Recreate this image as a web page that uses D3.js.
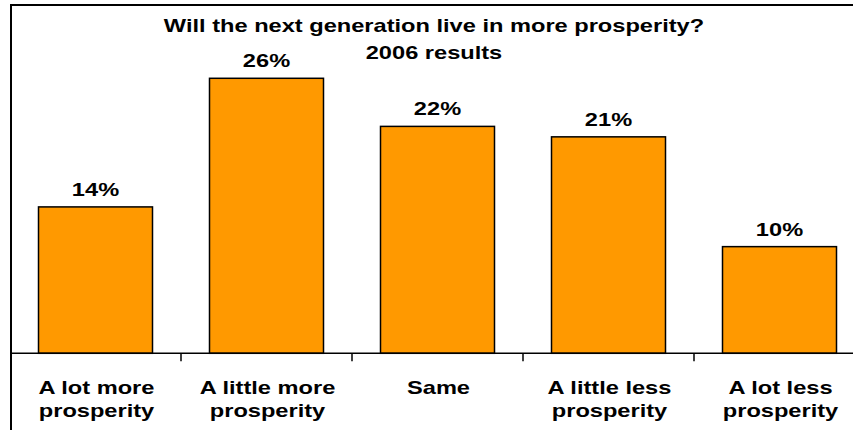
<!DOCTYPE html>
<html>
<head>
<meta charset="utf-8">
<script src="https://cdn.jsdelivr.net/npm/d3@7"></script>
<style>
html,body{margin:0;padding:0;background:#fff;}
svg{display:block;}
text{font-family:"Liberation Sans",Arial,sans-serif;font-weight:bold;fill:#000;}
</style>
</head>
<body>
<svg id="chart" width="853" height="430"></svg>
<script>
const categories = [["A lot more","prosperity"],["A little more","prosperity"],["Same"],["A little less","prosperity"],["A lot less","prosperity"]];
const values = [14.0, 26.3, 21.7, 20.7, 10.2];
const titleLines = ["Will the next generation live in more prosperity?","2006 results"];

const svg = d3.select("#chart");
const W = 853, H = 430;
const fs = 19.2, sx = 1.23;
const keys = categories.map(c => c.join(" "));

const x = d3.scaleBand().domain(keys).range([10, 865]).paddingInner(1/3).paddingOuter(1/6);
const y = d3.scaleLinear().domain([0, 30]).range([353.3, 39.6]);

// frame
svg.append("line").attr("x1",10).attr("x2",W).attr("y1",5).attr("y2",5).attr("stroke","#000").attr("stroke-width",2);
svg.append("line").attr("x1",11).attr("x2",11).attr("y1",4).attr("y2",H).attr("stroke","#000").attr("stroke-width",2);

// bars
svg.selectAll("rect.bar").data(values).join("rect")
  .attr("class","bar")
  .attr("x",(d,i)=>x(keys[i]))
  .attr("width",x.bandwidth())
  .attr("y",d=>y(d))
  .attr("height",d=>y(0)-y(d))
  .attr("fill","#FF9900")
  .attr("stroke","#000")
  .attr("stroke-width",1.5);

// axis line and ticks
svg.append("line").attr("x1",11).attr("x2",W).attr("y1",y(0)).attr("y2",y(0)).attr("stroke","#000").attr("stroke-width",1.5);
const bounds = keys.slice(1).map(k => x(k) - x.step()*x.paddingInner()/2);
svg.selectAll("line.tick").data(bounds).join("line")
  .attr("class","tick")
  .attr("x1",d=>d).attr("x2",d=>d)
  .attr("y1",y(0)).attr("y2",y(0)+8)
  .attr("stroke","#000").attr("stroke-width",1.5);

function stext(px, py, str){
  return svg.append("text")
    .attr("transform",`translate(${px},${py}) scale(${sx},1)`)
    .attr("text-anchor","middle")
    .attr("font-size",fs)
    .text(str);
}

// value labels
values.forEach((v,i)=>{
  stext(x(keys[i]) + x.bandwidth()/2, y(v) - 11, Math.round(v) + "%");
});

// category labels
categories.forEach((lines,i)=>{
  lines.forEach((ln,j)=>{
    stext(x(keys[i]) + x.bandwidth()/2 + 1, 394 + j*23, ln);
  });
});

// title
stext(434, 31.7, titleLines[0]);
stext(434, 59, titleLines[1]);
</script>
</body>
</html>
